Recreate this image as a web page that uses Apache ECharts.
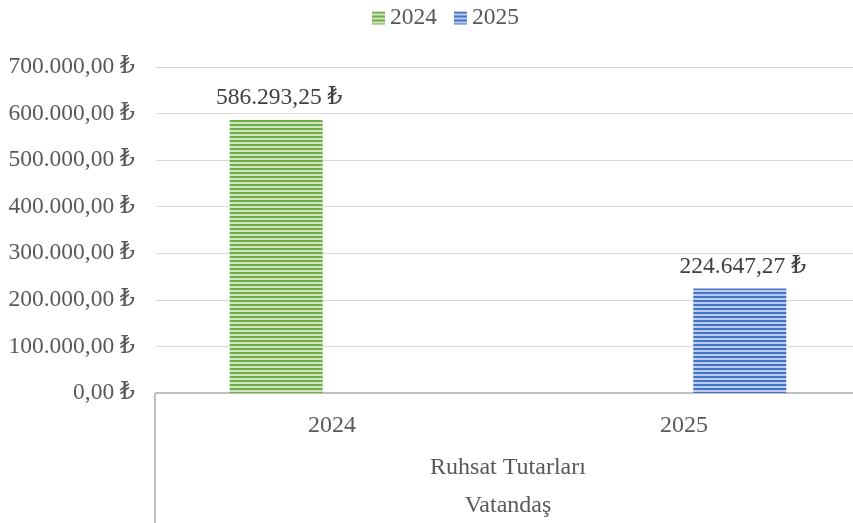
<!DOCTYPE html>
<html>
<head>
<meta charset="utf-8">
<script src="https://cdn.jsdelivr.net/npm/echarts@6/dist/echarts.min.js"></script>
<style>
  html, body { margin: 0; padding: 0; background: #fff; }
  #chart { width: 853px; height: 523px; }
</style>
</head>
<body>
<div id="chart"></div>
<script>
// Permit fees (Vatandaş) by year
const categories = ['2024', '2025'];
const seriesNames = ['2024', '2025'];
const values2024 = [586293.25, null];
const values2025 = [null, 224647.27];
const groupLabels = ['Ruhsat Tutarları', 'Vatandaş'];
const yMin = 0, yMax = 700000, yStep = 100000;

const FONT = '"Liberation Serif", "Times New Roman", "DejaVu Serif", serif';
const TEXT = '#595959';
const FS = 24;

// Turkish lira formatting: 586.293,25 ₺
function formatTL(v) {
  const fixed = Math.abs(v).toFixed(2);
  const [intPart, dec] = fixed.split('.');
  const grouped = intPart.replace(/\B(?=(\d{3})+(?!\d))/g, '.');
  return (v < 0 ? '-' : '') + grouped + ',' + dec + ' \u20BA';
}

// Horizontal striped fill for the bars
function stripes(dark, light) {
  const c = document.createElement('canvas');
  c.width = 4; c.height = 4;
  const g = c.getContext('2d');
  g.fillStyle = dark; g.fillRect(0, 0, 4, 4);
  g.fillStyle = light; g.fillRect(0, 2, 4, 2);
  return { image: c, repeat: 'repeat' };
}
const greenFill = stripes('#70AD47', '#cfe6c0');
const blueFill = stripes('#4472C4', '#b9cbee');

const chart = echarts.init(document.getElementById('chart'), null, { renderer: 'canvas' });

const labelCfg = {
  show: true,
  position: 'top',
  distance: 10,
  offset: [3, 0],
  fontFamily: FONT,
  fontSize: 23.5,
  color: '#404040',
  formatter: p => formatTL(p.value)
};

chart.setOption({
  animation: false,
  textStyle: { fontFamily: FONT },
  legend: {
    top: 1,
    left: 367,
    itemWidth: 13,
    itemHeight: 13,
    itemGap: 17,
    icon: 'rect',
    textStyle: { fontFamily: FONT, fontSize: 23.5, color: TEXT },
    data: seriesNames
  },
  // plot area runs slightly past the right edge of the canvas
  grid: { left: 156, top: 67, width: 704, bottom: 130, containLabel: false, outerBoundsMode: 'none' },
  xAxis: {
    type: 'category',
    data: categories,
    axisLine: { lineStyle: { color: '#bfbfbf', width: 2 } },
    axisTick: { show: false },
    axisLabel: { fontFamily: FONT, fontSize: FS, color: TEXT, margin: 21 }
  },
  yAxis: {
    type: 'value',
    min: yMin, max: yMax, interval: yStep,
    axisLine: { show: false },
    axisTick: { show: false },
    splitLine: { lineStyle: { color: '#d9d9d9', width: 1 } },
    axisLabel: { fontFamily: FONT, fontSize: 23.5, color: TEXT, margin: 21, formatter: formatTL }
  },
  series: [
    {
      name: seriesNames[0], type: 'bar', data: values2024,
      barWidth: 93, barGap: '20%',
      itemStyle: { color: greenFill },
      label: labelCfg
    },
    {
      name: seriesNames[1], type: 'bar', data: values2025,
      barWidth: 93,
      itemStyle: { color: blueFill },
      label: labelCfg
    }
  ],
  graphic: [
    { type: 'line', shape: { x1: 155, y1: 393, x2: 155, y2: 523 },
      style: { stroke: '#bfbfbf', lineWidth: 2 } },
    { type: 'text', x: 508, y: 468,
      style: { text: groupLabels[0], font: FS + 'px ' + FONT, fill: TEXT, align: 'center', verticalAlign: 'middle' } },
    { type: 'text', x: 508, y: 506,
      style: { text: groupLabels[1], font: FS + 'px ' + FONT, fill: TEXT, align: 'center', verticalAlign: 'middle' } }
  ]
});
</script>
</body>
</html>
